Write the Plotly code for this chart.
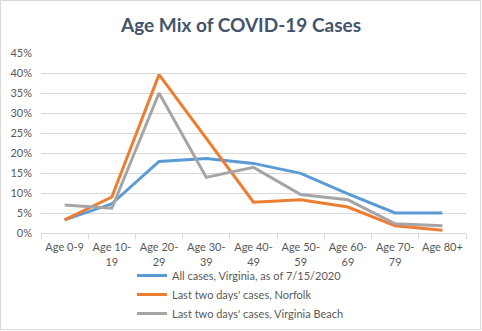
import plotly.graph_objects as go

# Age groups (x categories)
age_groups = ["Age 0-9", "Age 10-<br>19", "Age 20-<br>29", "Age 30-<br>39", "Age 40-<br>49",
              "Age 50-<br>59", "Age 60-<br>69", "Age 70-<br>79", "Age 80+"]

# Share of cases by age group, in percent
virginia_all = [3.3, 7.3, 17.9, 18.6, 17.4, 14.9, 9.8, 5.0, 5.0]
norfolk_recent = [3.3, 9.0, 39.6, 23.7, 7.7, 8.3, 6.5, 1.8, 0.7]
vabeach_recent = [7.0, 6.2, 35.0, 13.9, 16.4, 9.6, 8.3, 2.3, 1.8]

series_names = ["All cases, Virginia, as of 7/15/2020",
                "Last two days' cases, Norfolk",
                "Last two days' cases, Virginia Beach"]
series_colors = ["#5B9BD5", "#ED7D31", "#A5A5A5"]
y_ticks = [0, 5, 10, 15, 20, 25, 30, 35, 40, 45]
y_tick_labels = [f"{v}%" for v in y_ticks]

W, H = 482, 331
ml, mr, mt, mb = 41, 16, 53, 98

fig = go.Figure()
for name, vals, col in zip(series_names, [virginia_all, norfolk_recent, vabeach_recent], series_colors):
    fig.add_trace(go.Scatter(x=age_groups, y=vals, mode="lines", name=name,
                             line=dict(color=col, width=3)))

pw = W - ml - mr
ph = H - mt - mb
# Thin frame around the whole chart
fig.add_shape(type="rect", xref="paper", yref="paper",
              x0=(0.5 - ml) / pw, x1=(W - 1.5 - ml) / pw,
              y0=-(mb - 1.5) / ph, y1=1 + (mt - 0.5) / ph,
              line=dict(color="#D9D9D9", width=1), layer="below")

fig.update_layout(
    width=W, height=H,
    margin=dict(l=ml, r=mr, t=mt, b=mb, autoexpand=False),
    paper_bgcolor="white", plot_bgcolor="white",
    font=dict(family="Lato", size=11, color="#595959"),
    title=dict(text="<b>Age Mix of COVID-19 Cases</b>", x=0.5, xref="container", xanchor="center",
               y=1 - 25 / H, yanchor="middle",
               font=dict(family="Lato", size=19, color="#44546A")),
    xaxis=dict(type="category", range=[-0.5, len(age_groups) - 0.5],
               showgrid=False, showline=True, linecolor="#D9D9D9",
               ticks="outside", tickson="boundaries", ticklen=5, tickcolor="#D9D9D9",
               tickangle=0, automargin=False,
               tickfont=dict(size=11, color="#595959"), ticklabelstandoff=4),
    yaxis=dict(range=[0, 45], tickvals=y_ticks, ticktext=y_tick_labels, showgrid=True,
               gridcolor="#D9D9D9", gridwidth=1, zeroline=False, showline=False,
               automargin=False,
               tickfont=dict(size=11, color="#595959"), ticklabelstandoff=8),
    legend=dict(orientation="v", x=(132 - ml) / pw, xanchor="left",
                y=-(261 - 233) / ph, yanchor="top",
                bgcolor="rgba(0,0,0,0)", font=dict(size=11, color="#595959"),
                tracegroupgap=0),
    showlegend=True,
)

fig.write_html("out.html")
